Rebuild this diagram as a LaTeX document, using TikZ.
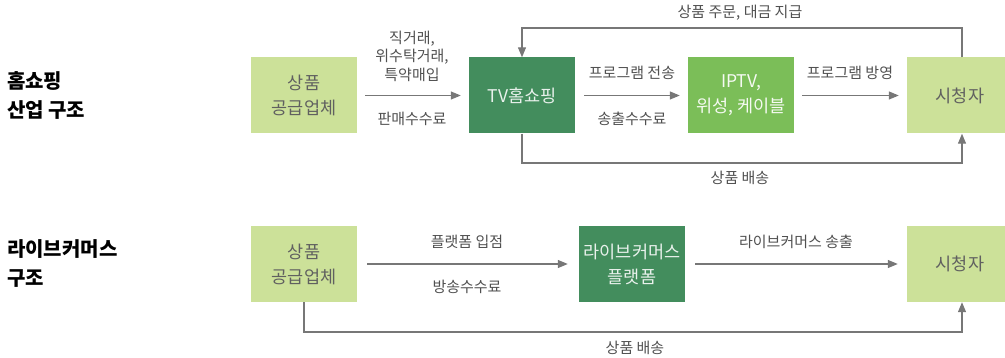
\documentclass[tikz,border=0pt]{standalone}
\usepackage{fontspec}
\setmainfont{Noto Sans CJK KR}
\usetikzlibrary{arrows.meta}
\definecolor{lightg}{HTML}{CCE199}
\definecolor{darkg}{HTML}{438D5D}
\definecolor{midg}{HTML}{7BBE58}
\definecolor{linec}{HTML}{777777}
\definecolor{labc}{HTML}{505050}
\definecolor{boxtxt}{HTML}{606060}
\begin{document}
\begin{tikzpicture}[x=1pt,y=-1pt,
  box/.style={minimum width=106pt,minimum height=76pt,inner sep=0pt,align=center,
    font=\fontsize{17.5}{25}\selectfont},
  lbox/.style={box,fill=lightg,text=boxtxt},
  dbox/.style={box,fill=darkg,text=white!88!darkg},
  mbox/.style={box,fill=midg,text=white!92!midg},
  lab/.style={text=labc,font=\fontsize{15}{18.5}\selectfont,align=center,inner sep=0pt},
  head/.style={font=\fontsize{20}{29}\selectfont\bfseries,align=left,anchor=west,inner sep=0pt},
  conn/.style={draw=linec,line width=1.2pt,-{Triangle[length=10pt,width=8pt]}},
  plain/.style={draw=linec,line width=1.2pt}]
\useasboundingbox (0,0) rectangle (1005,358);
\clip (0,0) rectangle (1005,358);
% headers
\node[head] (h1) at (7,95.5) {홈쇼핑\\산업 구조};
\node[head] (h2) at (7,264) {라이브커머스\\구조};
% top row
\node[lbox] (sup1) at (304,95.5) {상품\\공급업체};
\node[dbox] (tv) at (522,95.5) {TV홈쇼핑};
\node[mbox] (iptv) at (741,95.5) {IPTV,\\위성, 케이블};
\node[lbox] (view1) at (960,95.5) {시청자};
\draw[conn] ([xshift=8pt]sup1.east) -- ([xshift=-8pt]tv.west);
\draw[conn] ([xshift=9pt]tv.east) -- ([xshift=-8pt]iptv.west);
\draw[conn] ([xshift=8pt]iptv.east) -- ([xshift=-8pt]view1.west);
\node[lab] (l1) at (412,56) {직거래,\\위수탁거래,\\특약매입};
\node[lab] (l2) at (412,119) {판매수수료};
\node[lab] (l3) at (632,73) {프로그램 전송};
\node[lab] (l4) at (632,119) {송출수수료};
\node[lab] (l5) at (850,73) {프로그램 방영};
\coordinate (t1) at (962,28);
\coordinate (t2) at (522,28);
\draw[conn] ([xshift=2pt]view1.north) -- (t1) -- (t2) -- (tv.north);
\node[lab] (l6) at (740,13) {상품 주문, 대금 지급};
\coordinate (b1) at (522,163);
\coordinate (b2) at (962,163);
\draw[conn] (tv.south) -- (b1) -- (b2) -- ([xshift=2pt]view1.south);
\node[lab] (l7) at (740,178) {상품 배송};
% bottom row
\node[lbox] (sup2) at (304,264) {상품\\공급업체};
\node[dbox] (live) at (632,264) {라이브커머스\\플랫폼};
\node[lbox] (view2) at (960,264) {시청자};
\draw[conn] ([xshift=10pt]sup2.east) -- ([xshift=-11pt]live.west);
\draw[conn] ([xshift=10pt]live.east) -- ([xshift=-9pt]view2.west);
\node[lab] (m1) at (467,242) {플랫폼 입점};
\node[lab] (m2) at (467,287) {방송수수료};
\node[lab] (m3) at (796,242) {라이브커머스 송출};
\coordinate (c1) at (304,332);
\coordinate (c2) at (962,332);
\draw[conn] (sup2.south) -- (c1) -- (c2) -- ([xshift=2pt]view2.south);
\node[lab] (m4) at (635,348) {상품 배송};
\end{tikzpicture}
\end{document}
